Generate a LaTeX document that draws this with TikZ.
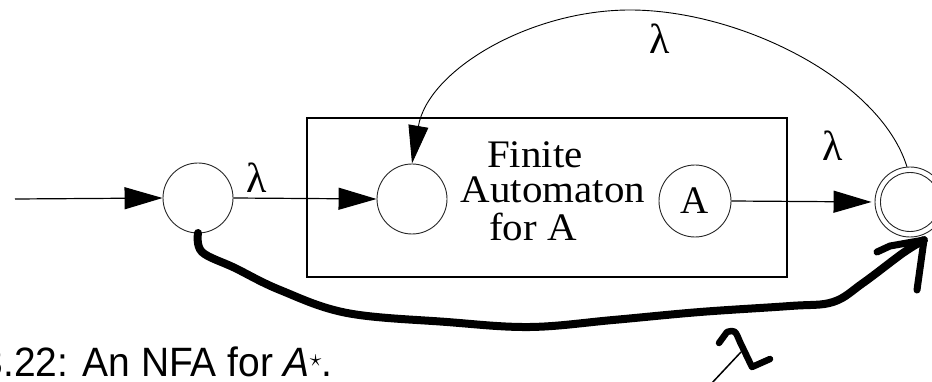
\documentclass[tikz,border=0pt]{standalone}
\usepackage{fontspec}
\setmainfont{Liberation Serif}
\newfontfamily\capfont{Liberation Sans}
\usetikzlibrary{arrows.meta}
\begin{document}
\begin{tikzpicture}[x=1pt,y=-1pt,
  state/.style={circle,draw=black!85,line width=0.9pt,minimum size=70pt,inner sep=0pt},
  conn/.style={line width=1.2pt,-{Triangle[length=38pt,width=22pt]}},
  lbl/.style={font=\fontsize{42}{42}\selectfont,inner sep=0pt},
  txt/.style={font=\fontsize{39}{39}\selectfont,inner sep=0pt,anchor=base,xscale=1.05},
  hand/.style={line width=8pt,line cap=round,line join=round}]
\useasboundingbox (0,0) rectangle (932,382);
\clip (0,0) rectangle (932,382);
% states
\node[state] (s) at (198,198) {};
\node[state] (i) at (412,199) {};
\node[state,minimum size=72pt] (a) at (695,201) {\fontsize{39}{39}\selectfont A};
\node[state] (f) at (910,202) {};
\node[circle,draw=black!85,line width=0.9pt,minimum size=59pt,inner sep=0pt] (fin) at (f) {};
% box
\node[draw,line width=1.4pt,minimum width=480pt,minimum height=159pt,inner sep=0pt] (box) at (547,197.5) {};
% text
\node[txt] (t1) at (535,168) {Finite};
\node[txt] (t2) at (553,203) {Automaton};
\node[txt] (t3) at (533,241) {for A};
% input
\coordinate (in) at (15,199);
\draw[conn] (in) -- (s.west);
\draw[conn] (s.east) -- (i.west);
\draw[conn,shorten >=3pt] (a.east) -- (f.west);
% top arc
\coordinate (peak) at (630,10);
\draw[line width=0.9pt,-{Triangle[length=38pt,width=20pt]}] (f.95) .. controls (880,80) and (740,10) .. (peak) .. controls (530,10) and (428,70) .. (i.north);
% labels
\node[lbl] (l1) at (257,178) {λ};
\node[lbl] (l2) at (833,146) {λ};
\node[lbl] (l3) at (660,39) {λ};
% hand-drawn curve
\coordinate (tip) at (924,240);
\draw[hand] plot[smooth,tension=0.6] coordinates {(198,233) (202,252) (235,268) (280,290) (347,313) (447,322) (530,327) (613,320) (700,312) (790,306) (833,302) (863,283) (903,253) (tip)};
\draw[hand,line width=7pt] (877,252) -- (890,246) -- (tip) -- (917,290);
% hand-drawn lambda
\draw[line width=1.5pt] (711,384) -- (741,352);
\draw[hand,line width=6.5pt] (719,343) -- (727,332) .. controls (735,330) .. (740,342) -- (752,367) -- (770,359);
% caption
\node[anchor=base east,inner sep=0pt,xscale=0.95,font=\capfont\fontsize{41}{41}\selectfont] (cap) at (333,376) {3.22: An NFA for \textit{A}\textsuperscript{$\star$}.};
\end{tikzpicture}
\end{document}
